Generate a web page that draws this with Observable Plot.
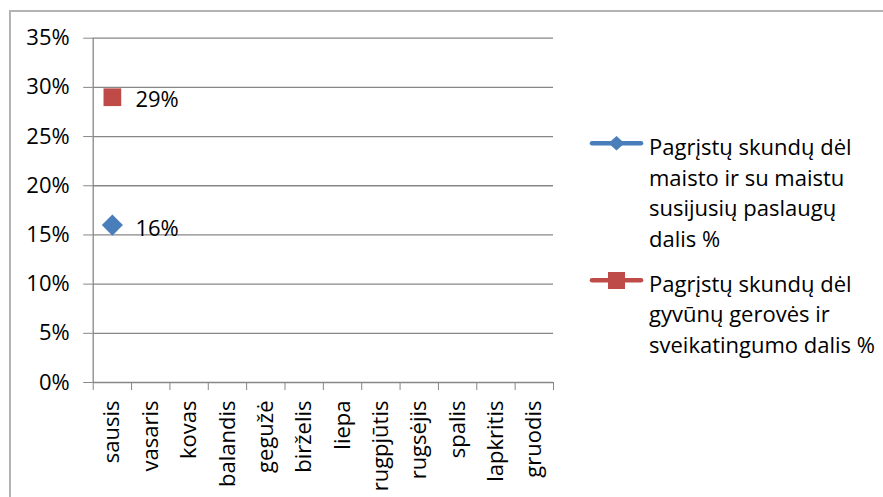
<!DOCTYPE html>
<html><head><meta charset="utf-8">
<script src="https://cdn.jsdelivr.net/npm/d3@7"></script>
<script src="https://cdn.jsdelivr.net/npm/@observablehq/plot@0.6"></script>
<style>
body{margin:0;background:#fff;font-family:"Open Sans",sans-serif;}
#wrap{position:relative;width:883px;height:497px;overflow:hidden;background:#fff;}
#border{position:absolute;left:9px;top:10px;width:1000px;height:1000px;border:2px solid #b3b3b3;box-sizing:border-box;}
#chart{position:absolute;left:0;top:0;}
#legend{position:absolute;left:588px;top:131px;font-size:22px;line-height:30.5px;color:#000;white-space:nowrap;}
.entry{display:flex;align-items:flex-start;}
.entry svg{flex:none;}
.entry + .entry{margin-top:14.5px;}
</style>
</head><body>
<div id="wrap"><div id="border"></div><div id="chart"></div><div id="legend"></div></div>
<script>
const months = ["sausis","vasaris","kovas","balandis","gegužė","birželis","liepa","rugpjūtis","rugsėjis","spalis","lapkritis","gruodis"];
const foodShare = [0.16, null, null, null, null, null, null, null, null, null, null, null];
const animalShare = [0.29, null, null, null, null, null, null, null, null, null, null, null];
const yTicks = [0, 0.05, 0.10, 0.15, 0.20, 0.25, 0.30, 0.35];
const seriesNames = ["Pagrįstų skundų dėl\nmaisto ir su maistu\nsusijusių paslaugų\ndalis %", "Pagrįstų skundų dėl\ngyvūnų gerovės ir\nsveikatingumo dalis %"];
const colors = ["#4a7ebb", "#be4b48"];

const food = months.map((m, i) => ({x: i + 0.5, v: foodShare[i]})).filter(d => d.v != null);
const animal = months.map((m, i) => ({x: i + 0.5, v: animalShare[i]})).filter(d => d.v != null);
const gray = "#878787";
const fmt = d3.format(".0%");

const chart = Plot.plot({
  width: 883, height: 497,
  marginLeft: 92.7, marginRight: 330, marginTop: 37.7, marginBottom: 115,
  style: {fontFamily: "Open Sans, sans-serif", fontSize: "22px", color: "#000", background: "transparent"},
  x: {type: "linear", domain: [0, 12]},
  y: {domain: [0, 0.35]},
  marks: [
    Plot.gridY(yTicks, {stroke: gray, strokeOpacity: 1, strokeWidth: 1.3}),
    Plot.ruleX([0], {y1: 0, y2: 0.35, stroke: gray, strokeWidth: 1.3}),
    Plot.axisY({ticks: yTicks, tickFormat: fmt, tickSize: 9.5, tickPadding: 14, stroke: gray, fill: "#000", label: null, fontSize: 22}),
    Plot.axisX({ticks: d3.range(13), tickFormat: () => "", tickSize: 8, stroke: gray, label: null}),
    Plot.axisX({ticks: d3.range(12).map(i => i + 0.5), tickFormat: d => months[Math.floor(d)], tickSize: 0, tickPadding: 18, tickRotate: -90, fill: "#000", label: null, fontSize: 22}),
    Plot.dot(food, {x: "x", y: "v", symbol: "diamond2", r: 9.5, fill: colors[0], stroke: null}),
    Plot.dot(animal, {x: "x", y: "v", symbol: "square", r: 10, fill: colors[1], stroke: null}),
    Plot.text(food, {x: "x", y: "v", text: d => fmt(d.v), dx: 23, dy: 4, textAnchor: "start", fill: "#000", fontSize: 22}),
    Plot.text(animal, {x: "x", y: "v", text: d => fmt(d.v), dx: 23, dy: 3, textAnchor: "start", fill: "#000", fontSize: 22})
  ]
});
document.getElementById("chart").appendChild(chart);

const legend = document.getElementById("legend");
const markers = [
  `<path d="M28.5,5 L36.5,12.3 L28.5,19.6 L20.5,12.3 Z" fill="${colors[0]}"/>`,
  `<rect x="20" y="4" width="17" height="17" fill="${colors[1]}"/>`
];
seriesNames.forEach((name, i) => {
  const e = document.createElement("div");
  e.className = "entry";
  e.innerHTML = `<svg width="61" height="30" viewBox="0 0 61 30"><line x1="4" x2="53" y1="12.3" y2="12.3" stroke="${colors[i]}" stroke-width="4.5" stroke-linecap="round"/>${markers[i]}</svg><div>${name.split("\n").join("<br>")}</div>`;
  legend.appendChild(e);
});
</script>
</body></html>
